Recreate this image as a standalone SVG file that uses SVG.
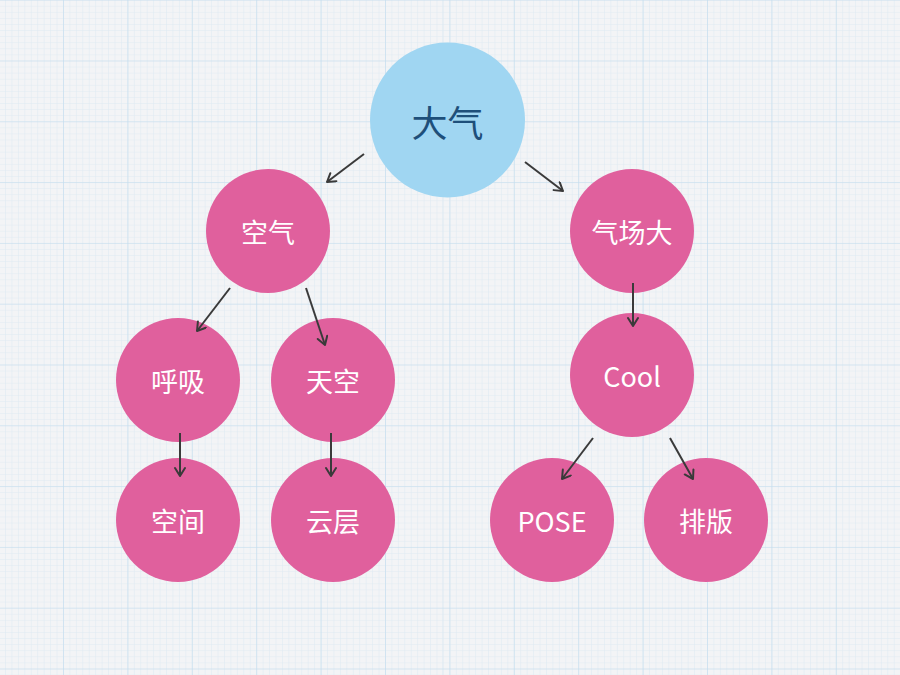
<svg xmlns="http://www.w3.org/2000/svg" width="900" height="675" viewBox="0 0 900 675">
  <defs>
    <pattern id="minor" x="-1.4" y="-0.3" width="6.44" height="6.08" patternUnits="userSpaceOnUse">
      <path d="M0,0 V6.08 M0,0 H6.44" fill="none" stroke="#dde9f2" stroke-width="1"/>
    </pattern>
    <pattern id="major" x="-1.4" y="-0.3" width="64.4" height="60.8" patternUnits="userSpaceOnUse">
      <path d="M0,0 V60.8 M0,0 H64.4" fill="none" stroke="#c2dcee" stroke-width="1.2"/>
    </pattern>
    <marker id="arr" markerWidth="14" markerHeight="14" refX="10" refY="6" orient="auto" markerUnits="userSpaceOnUse">
      <path d="M2,1 L10,6 L2,11" fill="none" stroke="#3a3a3a" stroke-width="2" stroke-linecap="round" stroke-linejoin="round"/>
    </marker>
  </defs>
  <style>
    .pink { fill: #e0609d; }
    .lbl { fill: #ffffff; font-family: "Noto Sans CJK SC", "Noto Sans", sans-serif; font-size: 27px; text-anchor: middle; dominant-baseline: central; }
    .root { fill: #a0d6f2; }
    .rootlbl { fill: #1e4f7a; font-family: "Noto Sans CJK SC", "Noto Sans", sans-serif; font-size: 36px; text-anchor: middle; dominant-baseline: central; }
    .edge { stroke: #3a3a3a; stroke-width: 2; fill: none; marker-end: url(#arr); }
  </style>
  <rect width="900" height="675" fill="#f3f4f6"/>
  <rect width="900" height="675" fill="url(#minor)"/>
  <rect width="900" height="675" fill="url(#major)"/>

  <g id="n-daqi">
    <circle class="root" cx="447.5" cy="120" r="77.5"/>
    <text class="rootlbl" x="447.5" y="121">大气</text>
  </g>
  <g id="n-kongqi">
    <circle class="pink" cx="268" cy="231" r="62"/>
    <text class="lbl" x="268" y="231">空气</text>
  </g>
  <g id="n-qichangda">
    <circle class="pink" cx="632" cy="231" r="62"/>
    <text class="lbl" x="632" y="231">气场大</text>
  </g>
  <g id="n-huxi">
    <circle class="pink" cx="178" cy="380" r="62"/>
    <text class="lbl" x="178" y="380">呼吸</text>
  </g>
  <g id="n-tiankong">
    <circle class="pink" cx="333" cy="380" r="62"/>
    <text class="lbl" x="333" y="380">天空</text>
  </g>
  <g id="n-cool">
    <circle class="pink" cx="632" cy="375" r="62"/>
    <text class="lbl" x="632" y="375">Cool</text>
  </g>
  <g id="n-kongjian">
    <circle class="pink" cx="178" cy="520" r="62"/>
    <text class="lbl" x="178" y="520">空间</text>
  </g>
  <g id="n-yunceng">
    <circle class="pink" cx="333" cy="520" r="62"/>
    <text class="lbl" x="333" y="520">云层</text>
  </g>
  <g id="n-pose">
    <circle class="pink" cx="552" cy="520" r="62"/>
    <text class="lbl" x="552" y="520">POSE</text>
  </g>
  <g id="n-paiban">
    <circle class="pink" cx="706" cy="520" r="62"/>
    <text class="lbl" x="706" y="520">排版</text>
  </g>

  <g id="connectors">
    <line class="edge" x1="364" y1="154" x2="327" y2="182"/>
    <line class="edge" x1="525" y1="162" x2="563" y2="191"/>
    <line class="edge" x1="230" y1="288" x2="197" y2="331"/>
    <line class="edge" x1="306" y1="288" x2="325" y2="345"/>
    <line class="edge" x1="180" y1="433" x2="180" y2="476"/>
    <line class="edge" x1="331" y1="433" x2="331" y2="476"/>
    <line class="edge" x1="633" y1="283" x2="633" y2="326"/>
    <line class="edge" x1="593" y1="438" x2="562" y2="479"/>
    <line class="edge" x1="670" y1="438" x2="693" y2="479"/>
  </g>
</svg>
